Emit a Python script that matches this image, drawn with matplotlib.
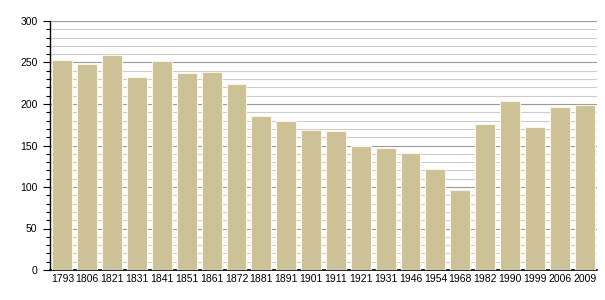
import matplotlib
matplotlib.use("Agg")
import matplotlib.pyplot as plt
from matplotlib.ticker import MultipleLocator

years = ["1793", "1806", "1821", "1831", "1841", "1851", "1861", "1872", "1881", "1891",
         "1901", "1911", "1921", "1931", "1946", "1954", "1968", "1982", "1990", "1999",
         "2006", "2009"]
population = [253, 248, 259, 232, 252, 237, 239, 224, 186, 180,
              169, 167, 150, 147, 141, 122, 96, 176, 204, 172,
              196, 199]

plt.rcParams['font.family'] = ['Liberation Sans', 'DejaVu Sans']

fig = plt.figure(figsize=(6.05, 3.0), dpi=100)
ax = fig.add_axes([50/605, 30/300, 547/605, 249/300])

ax.bar(range(len(years)), population, width=0.8, color="#ccc197",
       edgecolor="#fbf6e4", linewidth=0.8, zorder=3)

ax.set_xlim(-0.5, len(years) - 0.5)
ax.set_ylim(0, 300)
ax.set_xticks(range(len(years)))
ax.set_xticklabels(years)
ax.yaxis.set_major_locator(MultipleLocator(50))
ax.yaxis.set_minor_locator(MultipleLocator(10))
ax.grid(axis="y", which="major", color="#999999", linewidth=0.8, zorder=0)
ax.grid(axis="y", which="minor", color="#cccccc", linewidth=0.8, zorder=0)

for s in ["top", "right"]:
    ax.spines[s].set_visible(False)
ax.spines["left"].set_linewidth(1.0)
ax.spines["bottom"].set_linewidth(1.2)
ax.tick_params(axis="x", length=0, labelsize=7.5, pad=3)
ax.tick_params(axis="y", which="major", length=5, width=0.8, labelsize=7.5, pad=4, direction="out")
ax.tick_params(axis="y", which="minor", length=3, width=0.8, direction="out")

fig.savefig("out.png", dpi=100, facecolor="white")
